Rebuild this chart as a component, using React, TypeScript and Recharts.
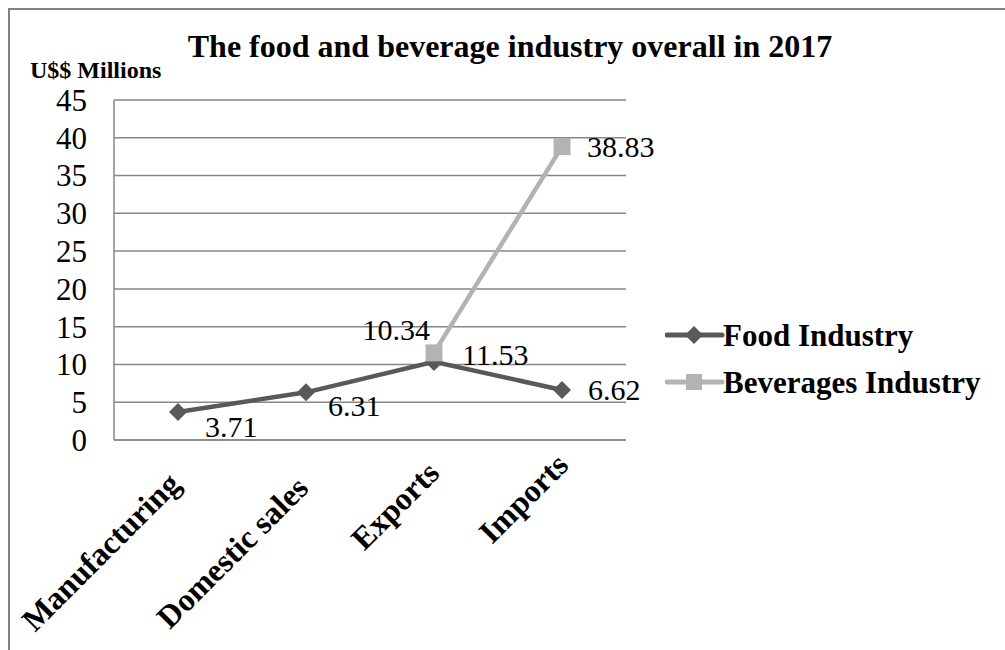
import React from 'react';
import { LineChart, Line, XAxis, YAxis, CartesianGrid, Legend, LabelList } from 'recharts';

const categories = ['Manufacturing', 'Domestic sales', 'Exports', 'Imports'];
const foodValues = [3.71, 6.31, 10.34, 6.62];
const beverageValues: (number | null)[] = [null, null, 11.53, 38.83];
const yTicks = [0, 5, 10, 15, 20, 25, 30, 35, 40, 45];
const legendOrder = ['food', 'beverages'];

const data = categories.map((c, i) => ({
  category: c,
  food: foodValues[i],
  beverages: beverageValues[i],
}));

const FONT = "'Liberation Serif', 'Times New Roman', serif";
const GRID = '#878787';
const FOOD_COLOR = '#595959';
const BEV_COLOR = '#b3b3b3';

// label offsets from the point: [dx, dy, anchor]
const foodLabelPos: [number, number, string][] = [
  [27, 15, 'start'],
  [22, 13, 'start'],
  [-4, -32, 'end'],
  [26, 0, 'start'],
];
const bevLabelPos: [number, number, string][] = [
  [0, 0, 'start'],
  [0, 0, 'start'],
  [28, 2, 'start'],
  [25, 0, 'start'],
];
// where each rotated category label ends, relative to its tick
const xTickShift: [number, number][] = [
  [4, 46],
  [4, 50],
  [7, 35],
  [8, 27],
];

const Diamond = (props: any) => {
  const { cx, cy, index } = props;
  if (cx == null || cy == null) return <g key={'d' + index} />;
  const r = 9;
  return (
    <polygon
      key={'d' + index}
      points={`${cx},${cy - r} ${cx + r},${cy} ${cx},${cy + r} ${cx - r},${cy}`}
      fill={FOOD_COLOR}
    />
  );
};

const Square = (props: any) => {
  const { cx, cy, index } = props;
  if (cx == null || cy == null) return <g key={'s' + index} />;
  const s = 17;
  return <rect key={'s' + index} x={cx - s / 2} y={cy - s / 2} width={s} height={s} fill={BEV_COLOR} />;
};

const makeLabel = (pos: [number, number, string][]) => (props: any) => {
  const { x, y, value, index } = props;
  if (value == null || x == null || y == null) return null;
  const [dx, dy, anchor] = pos[index];
  return (
    <text
      x={x + dx}
      y={y + dy}
      textAnchor={anchor as any}
      dominantBaseline="central"
      fontFamily={FONT}
      fontSize={30}
      fill="#000"
    >
      {value}
    </text>
  );
};

const XTick = (props: any) => {
  const { x, y, payload, index } = props;
  const [dx, dy] = xTickShift[index] || [7, 40];
  return (
    <text
      transform={`translate(${x + dx},${y + dy}) rotate(-45)`}
      textAnchor="end"
      fontFamily={FONT}
      fontSize={32}
      fontWeight="bold"
      fill="#000"
    >
      {payload.value}
    </text>
  );
};

const YTick = (props: any) => {
  const { x, y, payload } = props;
  return (
    <text x={x} y={y} dy="0.35em" textAnchor="end" fontFamily={FONT} fontSize={31} fill="#000">
      {payload.value}
    </text>
  );
};

const LegendBox = (props: any) => {
  const payload = [...(props.payload || [])].sort(
    (a: any, b: any) => legendOrder.indexOf(a.dataKey) - legendOrder.indexOf(b.dataKey)
  );
  return (
    <svg width={340} height={100} style={{ display: 'block' }}>
      {payload.map((p: any, i: number) => {
        const cy = 25 + i * 47;
        const isFood = p.dataKey === 'food';
        const color = isFood ? FOOD_COLOR : BEV_COLOR;
        return (
          <g key={p.value}>
            <line x1={2} x2={57} y1={cy} y2={cy} stroke={color} strokeWidth={5} strokeLinecap="round" />
            {isFood ? (
              <polygon points={`29,${cy - 9} 38,${cy} 29,${cy + 9} 20,${cy}`} fill={color} />
            ) : (
              <rect x={21} y={cy - 8} width={16} height={16} fill={color} />
            )}
            <text x={58} y={cy} dominantBaseline="central" fontFamily={FONT} fontSize={31} fontWeight="bold" fill="#000">
              {p.value}
            </text>
          </g>
        );
      })}
    </svg>
  );
};

export default function App() {
  return (
    <div
      style={{
        position: 'fixed',
        left: 8,
        top: 8,
        width: 997,
        height: 642,
        boxSizing: 'border-box',
        borderTop: '2px solid #828282',
        borderLeft: '2px solid #828282',
        background: '#fff',
      }}
    >
      <LineChart width={995} height={640} data={data} margin={{ top: 90, right: 39, bottom: 90, left: 44 }}>
        <CartesianGrid vertical={false} stroke={GRID} strokeWidth={1.5} />
        <XAxis
          dataKey="category"
          height={120}
          interval={0}
          padding={{ left: 64, right: 64 }}
          axisLine={{ stroke: GRID, strokeWidth: 1.5 }}
          tickLine={false}
          tickSize={0}
          tickMargin={0}
          tick={<XTick />}
        />
        <YAxis
          width={60}
          domain={[0, 45]}
          ticks={yTicks}
          interval={0}
          axisLine={{ stroke: GRID, strokeWidth: 1.5 }}
          tickLine={false}
          tickSize={0}
          tickMargin={27}
          tick={<YTick />}
        />
        <Legend
          layout="vertical"
          align="right"
          verticalAlign="middle"
          content={<LegendBox />}
          wrapperStyle={{ position: 'absolute', left: 655, top: 300, width: 340, height: 100 }}
        />
        <Line
          name="Food Industry"
          dataKey="food"
          stroke={FOOD_COLOR}
          strokeWidth={4.5}
          dot={Diamond}
          activeDot={false}
          isAnimationActive={false}
        >
          <LabelList dataKey="food" content={makeLabel(foodLabelPos)} />
        </Line>
        <Line
          name="Beverages Industry"
          dataKey="beverages"
          stroke={BEV_COLOR}
          strokeWidth={4.5}
          dot={Square}
          activeDot={false}
          isAnimationActive={false}
        >
          <LabelList dataKey="beverages" content={makeLabel(bevLabelPos)} />
        </Line>
        <text x={500} y={47} textAnchor="middle" fontFamily={FONT} fontSize={32} fontWeight="bold" fill="#000">
          The food and beverage industry overall in 2017
        </text>
        <text x={20} y={68} fontFamily={FONT} fontSize={24} fontWeight="bold" fill="#000">
          U$$ Millions
        </text>
      </LineChart>
    </div>
  );
}
